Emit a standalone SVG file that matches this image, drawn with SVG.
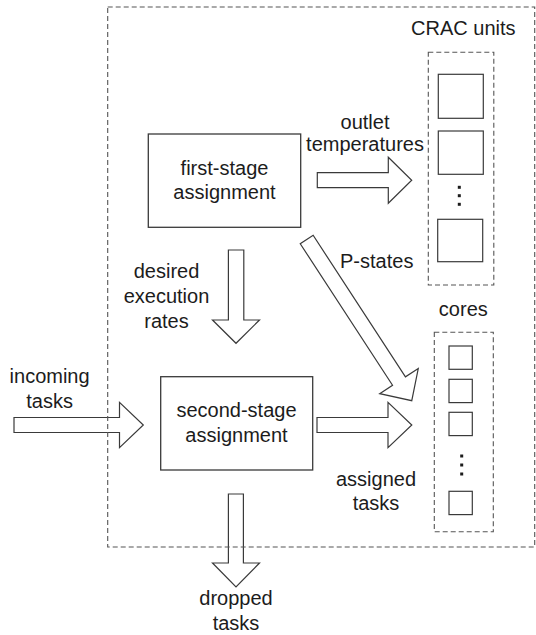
<svg xmlns="http://www.w3.org/2000/svg" width="536" height="635" viewBox="0 0 536 635">
  <style>
    .lbl { font-family: "Liberation Sans", Arial, Helvetica, sans-serif; font-size: 20px; fill: #1c1c1c; text-anchor: middle; }
    .box { fill: #ffffff; stroke: #3a3a3a; stroke-width: 1.3; }
    .unit { fill: #ffffff; stroke: #3a3a3a; stroke-width: 1.2; }
    .group { fill: none; stroke: #555555; stroke-width: 1.1; stroke-dasharray: 5 3; }
    .arrow { fill: #ffffff; stroke: #3a3a3a; stroke-width: 1.2; stroke-linejoin: miter; }
    .dot { fill: #1c1c1c; }
  </style>

  <rect width="536" height="635" fill="#ffffff"/>

  <!-- first-stage assignment -->
  <g id="first-stage">
    <rect class="box" x="148.3" y="134" width="152.4" height="93.3"/>
    <text class="lbl" x="224.5" y="174.5">first-stage</text>
    <text class="lbl" x="224.5" y="199">assignment</text>
  </g>

  <!-- second-stage assignment -->
  <g id="second-stage">
    <rect class="box" x="160.7" y="376.7" width="152" height="93.3"/>
    <text class="lbl" x="236.5" y="417">second-stage</text>
    <text class="lbl" x="236.5" y="441.5">assignment</text>
  </g>

  <!-- CRAC units -->
  <g id="crac-units">
    <text class="lbl" x="463.3" y="35">CRAC units</text>
    <rect class="group" x="428.3" y="52.3" width="65.5" height="232.7"/>
    <rect class="unit" x="438.3" y="74.3" width="45" height="44"/>
    <rect class="unit" x="438.3" y="131" width="45" height="43.3"/>
    <rect class="dot" x="457.8" y="185.8" width="3" height="3"/>
    <rect class="dot" x="457.8" y="194.2" width="3" height="3"/>
    <rect class="dot" x="457.8" y="202.8" width="3" height="3"/>
    <rect class="unit" x="437.7" y="219.3" width="45" height="42.4"/>
  </g>

  <!-- cores -->
  <g id="cores">
    <text class="lbl" x="463.3" y="316">cores</text>
    <rect class="group" x="434.3" y="332.3" width="59" height="199.4"/>
    <rect class="unit" x="449" y="346" width="23.3" height="23.3"/>
    <rect class="unit" x="449" y="379.3" width="23.3" height="23.3"/>
    <rect class="unit" x="449" y="412.3" width="23.3" height="23.3"/>
    <rect class="dot" x="460.2" y="454.5" width="3" height="3"/>
    <rect class="dot" x="460.2" y="463.5" width="3" height="3"/>
    <rect class="dot" x="460.2" y="472.5" width="3" height="3"/>
    <rect class="unit" x="449" y="491.3" width="23.3" height="23.3"/>
  </g>

  <!-- block arrows between stages, units and cores -->
  <g id="connectors">
    <!-- outlet temperatures -->
    <polygon class="arrow" points="317.3,172.7 388.3,172.7 388.3,157.3 411.7,180.3 388.3,203.3 388.3,187.7 317.3,187.7"/>
    <!-- desired execution rates -->
    <polygon class="arrow" points="228.4,250 243.8,250 243.8,320 259.5,320 236,343.3 212.5,320 228.4,320"/>
    <!-- P-states -->
    <g transform="translate(306.7,239.5) rotate(56.9)">
      <polygon class="arrow" points="0,-7.7 169,-7.7 169,-23 192.4,0 169,23 169,7.7 0,7.7"/>
    </g>
    <!-- incoming tasks -->
    <polygon class="arrow" points="14,417.5 119.5,417.5 119.5,402.3 143.3,425 119.5,447.7 119.5,432.5 14,432.5"/>
    <!-- assigned tasks -->
    <polygon class="arrow" points="317,417.5 388,417.5 388,402.3 411.8,425 388,447.7 388,432.5 317,432.5"/>
    <!-- dropped tasks -->
    <polygon class="arrow" points="228.4,494 243.4,494 243.4,563 259.5,563 236,587 212.5,563 228.4,563"/>
  </g>

  <!-- connector labels -->
  <g id="labels">
    <text class="lbl" x="365" y="128.5">outlet</text>
    <text class="lbl" x="365" y="150.5">temperatures</text>
    <text class="lbl" x="376.7" y="268">P-states</text>
    <text class="lbl" x="166.5" y="278">desired</text>
    <text class="lbl" x="166.5" y="303">execution</text>
    <text class="lbl" x="166.5" y="328">rates</text>
    <text class="lbl" x="49.6" y="383">incoming</text>
    <text class="lbl" x="49.6" y="408">tasks</text>
    <text class="lbl" x="376" y="485.5">assigned</text>
    <text class="lbl" x="376" y="510">tasks</text>
    <text class="lbl" x="236" y="605">dropped</text>
    <text class="lbl" x="236" y="630">tasks</text>
  </g>

  <!-- system boundary -->
  <g id="system">
    <rect class="group" x="107.7" y="7" width="427" height="540"/>
  </g>
</svg>
